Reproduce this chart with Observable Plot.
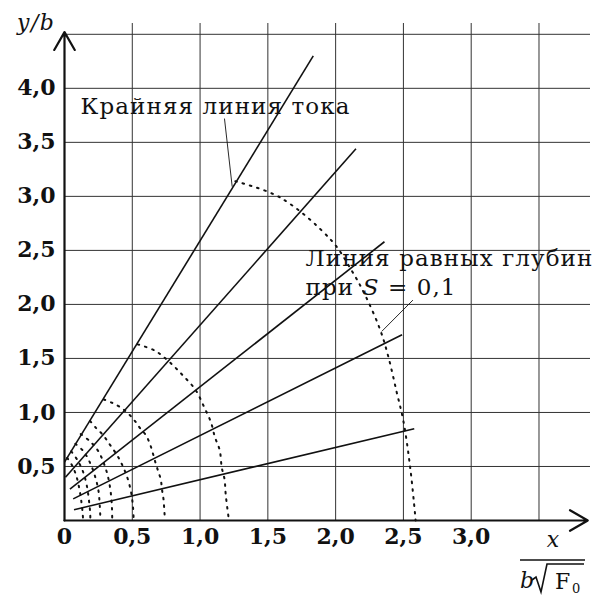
<!DOCTYPE html>
<html><head><meta charset="utf-8">
<script src="https://cdn.jsdelivr.net/npm/d3@7"></script>
<script src="https://cdn.jsdelivr.net/npm/@observablehq/plot@0.6"></script>
<style>body{margin:0;background:#fff;} svg{display:block;}</style>
</head><body><div id="chart"></div>
<script>
// Tick values and grid
const xTicks = [0, 0.5, 1, 1.5, 2, 2.5, 3];
const yTicks = [0.5, 1, 1.5, 2, 2.5, 3, 3.5, 4];
const xGrid = [0.5, 1, 1.5, 2, 2.5, 3, 3.5];
const yGrid = [0.5, 1, 1.5, 2, 2.5, 3, 3.5, 4, 4.5];

// Streamlines (straight segments)
const streamX1 = [0.000, 0.007, 0.040, 0.064, 0.070];
const streamY1 = [0.54, 0.40, 0.29, 0.20, 0.10];
const streamX2 = [1.835, 2.15, 2.36, 2.49, 2.58];
const streamY2 = [4.30, 3.44, 2.58, 1.72, 0.85];

// Lines of equal depth (dotted)
const depth1 = [[0.02,0.58],[0.06,0.50],[0.09,0.40],[0.11,0.29],[0.125,0.17],[0.135,0.05],[0.137,0.0]];
const depth2 = [[0.05,0.64],[0.10,0.55],[0.14,0.44],[0.165,0.32],[0.18,0.19],[0.19,0.06],[0.19,0.0]];
const depth3 = [[0.08,0.71],[0.14,0.64],[0.19,0.53],[0.225,0.41],[0.25,0.28],[0.26,0.14],[0.265,0.01]];
const depth4 = [[0.12,0.80],[0.19,0.73],[0.25,0.64],[0.29,0.53],[0.32,0.41],[0.34,0.27],[0.35,0.12],[0.352,0.01]];
const depth5 = [[0.19,0.92],[0.23,0.86],[0.285,0.79],[0.33,0.71],[0.38,0.62],[0.42,0.53],[0.46,0.41],[0.49,0.27],[0.505,0.13],[0.51,0.01]];
const depth6 = [[0.29,1.12],[0.35,1.09],[0.41,1.05],[0.47,0.99],[0.52,0.92],[0.56,0.85],[0.60,0.79],[0.63,0.71],[0.65,0.63],[0.67,0.54],[0.69,0.46],[0.71,0.38],[0.72,0.28],[0.73,0.20],[0.735,0.12],[0.74,0.02]];
const depth7 = [[0.54,1.63],[0.67,1.57],[0.78,1.46],[0.875,1.34],[0.966,1.21],[1.03,1.05],[1.08,0.91],[1.11,0.77],[1.145,0.65],[1.16,0.49],[1.18,0.385],[1.19,0.23],[1.21,0.03]];
const depth8 = [[1.26,3.14],[1.59,2.99],[1.97,2.59],[2.12,2.31],[2.22,2.08],[2.33,1.76],[2.39,1.51],[2.45,1.19],[2.50,0.92],[2.55,0.49],[2.585,0.07],[2.59,0.0]];
const depthCurves = [depth1, depth2, depth3, depth4, depth5, depth6, depth7, depth8];

// Leader lines for the labels
const leaderX1 = [1.18, 2.57];
const leaderY1 = [3.72, 2.04];
const leaderX2 = [1.237, 2.34];
const leaderY2 = [3.09, 1.75];

// Axis extents (arrow tips)
const axisEndX = 3.86;
const axisEndY = 4.52;

const labelTexts = ["Крайняя линия тока", "Линия равных глубин", "при S = 0,1"];
const fmt = d => d === 0 ? "0" : d.toFixed(1).replace(".", ",");

const streams = streamX1.map((x1, i) => ({x1, y1: streamY1[i], x2: streamX2[i], y2: streamY2[i]}));
const depthRows = depthCurves.flatMap((c, id) => c.map(([x, y]) => ({x, y, id})));
const leaders = leaderX1.map((x1, i) => ({x1, y1: leaderY1[i], x2: leaderX2[i], y2: leaderY2[i]}));
const axes = [{x1: 0, y1: 0, x2: axisEndX, y2: 0}, {x1: 0, y1: 0, x2: 0, y2: axisEndY}];

const labelStyle = {text: d => d, textAnchor: "start", lineAnchor: "bottom", fill: "#111", fontSize: 23};

const plot = Plot.plot({
  width: 600, height: 597,
  marginLeft: 64, marginRight: 10, marginTop: 23, marginBottom: 77,
  x: {domain: [0, 3.88]},
  y: {domain: [0, 4.6]},
  style: {fontFamily: "DejaVu Serif", fontSize: "22px", color: "#111", background: "white"},
  marks: [
    Plot.ruleX(xGrid, {y1: 0, y2: 4.6, stroke: "#333", strokeWidth: 1}),
    Plot.ruleY(yGrid, {x1: 0, x2: 3.88, stroke: "#333", strokeWidth: 1}),
    Plot.line(depthRows, {x: "x", y: "y", z: "id", curve: "catmull-rom", stroke: "#111", strokeWidth: 2, strokeDasharray: "1.6,6"}),
    Plot.link(streams, {x1: "x1", y1: "y1", x2: "x2", y2: "y2", stroke: "#111", strokeWidth: 1.6}),
    Plot.link(leaders, {x1: "x1", y1: "y1", x2: "x2", y2: "y2", stroke: "#111", strokeWidth: 0.9}),
    Plot.arrow(axes, {x1: "x1", y1: "y1", x2: "x2", y2: "y2", stroke: "#111", strokeWidth: 2.2, headLength: 14, headAngle: 60}),
    Plot.axisX(xTicks, {tickSize: 0, tickPadding: 8, tickFormat: fmt, label: null, fontWeight: "bold"}),
    Plot.axisY(yTicks, {tickSize: 0, tickPadding: 9, tickFormat: fmt, label: null, fontWeight: "bold"}),
    Plot.text([labelTexts[0]], {x: 0.118, y: 3.758, ...labelStyle}),
    Plot.text([labelTexts[1]], {x: 1.778, y: 2.351, ...labelStyle}),
    Plot.text([labelTexts[2]], {x: 1.778, y: 2.083, ...labelStyle})
  ]
});

const svg = d3.select(plot);
// letter spacing for the annotations, italic S
svg.selectAll("text").filter(function() { return labelTexts.includes(this.textContent); })
  .attr("letter-spacing", 1.1);
svg.selectAll("text").filter(function() { return this.textContent === labelTexts[2]; })
  .each(function() {
    const t = d3.select(this);
    t.text(null);
    t.append("tspan").text("при ");
    t.append("tspan").attr("font-style", "italic").text("S");
    t.append("tspan").text(" = 0,1");
  });

// Axis titles
const g = svg.append("g").attr("fill", "#111").attr("font-family", "DejaVu Serif").attr("font-size", 22).attr("text-anchor", "start");
g.append("text").attr("x", 17).attr("y", 30).attr("font-style", "italic").attr("letter-spacing", 1.5).text("y/b");
g.append("text").attr("x", 553).attr("y", 547).attr("text-anchor", "middle").attr("font-style", "italic").text("x");
g.append("line").attr("x1", 520).attr("x2", 585).attr("y1", 560).attr("y2", 560).attr("stroke", "#111").attr("stroke-width", 1.6);
g.append("text").attr("x", 520).attr("y", 588).attr("font-style", "italic").text("b");
g.append("path").attr("d", "M532,580 L536,577 L541,592 L547,564 L584,564").attr("fill", "none").attr("stroke", "#111").attr("stroke-width", 1.6);
g.append("text").attr("x", 555).attr("y", 589).text("F");
g.append("text").attr("x", 572).attr("y", 593).attr("font-size", 13).text("0");

document.getElementById("chart").appendChild(plot);
</script>
</body></html>
